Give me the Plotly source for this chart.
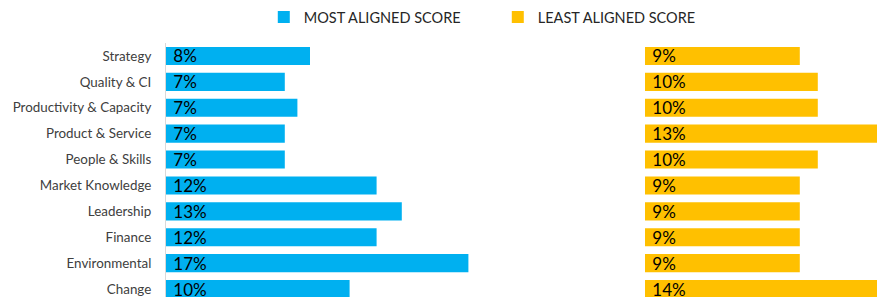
import plotly.graph_objects as go

categories = ["Strategy", "Quality & CI", "Productivity & Capacity", "Product & Service",
              "People & Skills", "Market Knowledge", "Leadership", "Finance",
              "Environmental", "Change"]
most_aligned = [8.0, 6.6, 7.3, 6.6, 6.6, 11.7, 13.1, 11.7, 16.8, 10.2]
most_labels = ["8%", "7%", "7%", "7%", "7%", "12%", "13%", "12%", "17%", "10%"]
least_aligned = [8.6, 9.6, 9.6, 13.2, 9.6, 8.6, 8.6, 8.6, 8.6, 14.0]
least_labels = ["9%", "10%", "10%", "13%", "10%", "9%", "9%", "9%", "9%", "14%"]

W, H = 877, 297
FONT = "Lato, 'Open Sans', sans-serif"
BLUE = "#00B0F0"
YELLOW = "#FFC000"
PX_PER_UNIT = 18.0

fig = go.Figure()
fig.add_trace(go.Bar(
    x=most_aligned, y=categories, orientation="h", name="MOST ALIGNED SCORE",
    marker=dict(color=BLUE, line=dict(width=0)),
    text=most_labels, texttemplate=" %{text}", textposition="inside",
    insidetextanchor="start", textangle=0, constraintext="none",
    textfont=dict(family=FONT, size=17, color="#000000"),
    xaxis="x", yaxis="y", hoverinfo="skip",
))
fig.add_trace(go.Bar(
    x=least_aligned, y=categories, orientation="h", name="LEAST ALIGNED SCORE",
    marker=dict(color=YELLOW, line=dict(width=0)),
    text=least_labels, texttemplate=" %{text}", textposition="inside",
    insidetextanchor="start", textangle=0, constraintext="none",
    textfont=dict(family=FONT, size=17, color="#000000"),
    xaxis="x2", yaxis="y2", hoverinfo="skip",
))

left_start, left_end = 166, 560
right_start, right_end = 645, 877
top_margin = 43
plot_h = H - top_margin
row_px = 25.9
span = plot_h / row_px
yrange = [-0.5 + span, -0.5]

fig.update_layout(
    width=W, height=H,
    margin=dict(l=0, r=0, t=top_margin, b=0, pad=0, autoexpand=False),
    paper_bgcolor="white", plot_bgcolor="white",
    bargap=0.3,
    showlegend=True,
    legend=dict(orientation="h", x=0.5676, xanchor="center", y=1 + (top_margin - 17) / plot_h,
                yanchor="middle", font=dict(family=FONT, size=14.5, color="#262626"),
                bgcolor="rgba(0,0,0,0)", entrywidth=189, traceorder="normal"),
    xaxis=dict(domain=[left_start / W, left_end / W],
               range=[0, (left_end - left_start) / PX_PER_UNIT],
               visible=False, fixedrange=True),
    xaxis2=dict(domain=[right_start / W, right_end / W],
                range=[0, (right_end - right_start) / PX_PER_UNIT],
                visible=False, fixedrange=True),
    yaxis=dict(anchor="x", type="category", categoryorder="array", categoryarray=categories,
               range=yrange, showline=True, linecolor="#d9d9d9", linewidth=1,
               showgrid=False, zeroline=False, ticks="", ticklabelstandoff=11,
               tickfont=dict(family=FONT, size=13.4, color="#404040")),
    yaxis2=dict(anchor="x2", type="category", categoryorder="array", categoryarray=categories,
                range=yrange, showline=False, showgrid=False, zeroline=False,
                showticklabels=False, ticks=""),
)

fig.write_html("out.html",
               config={"displayModeBar": False},
               post_script="document.body.style.margin='0';document.body.style.overflow='hidden';")
